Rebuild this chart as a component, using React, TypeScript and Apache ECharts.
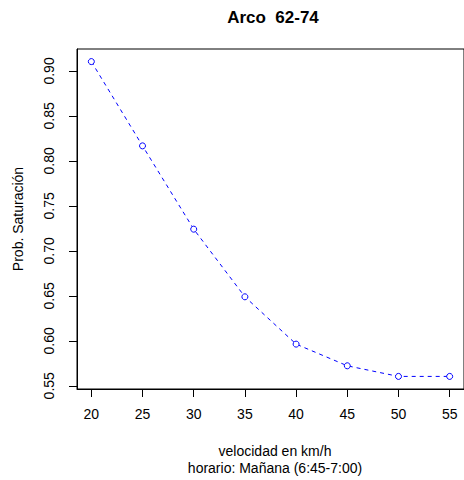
import React, { useEffect, useRef } from "react";
import * as echarts from "echarts";

const speeds = [20, 25, 30, 35, 40, 45, 50, 55];
const probs = [0.9104, 0.8167, 0.7241, 0.6489, 0.5963, 0.5722, 0.5604, 0.5604];
const xTicks = [20, 25, 30, 35, 40, 45, 50, 55];
const yTicks = [0.55, 0.6, 0.65, 0.7, 0.75, 0.8, 0.85, 0.9];
const titleText = "Arco  62-74";
const xTitle1 = "velocidad en km/h";
const xTitle2 = "horario: Mañana (6:45-7:00)";
const yTitle = "Prob. Saturación";

const FONT = "Liberation Sans, Arial, Helvetica, sans-serif";

export default function App() {
  const ref = useRef<HTMLDivElement>(null);
  useEffect(() => {
    if (!ref.current) return;
    const chart = echarts.init(ref.current, null, { renderer: "svg" });
    chart.setOption({
      animation: false,
      backgroundColor: "#ffffff",
      grid: {
        left: 77,
        top: 49,
        right: -6,
        bottom: 91,
        show: true,
        borderColor: "#000",
        borderWidth: 1,
        containLabel: false,
      },
      xAxis: {
        type: "value",
        min: 18.6,
        max: 56.4,
        axisLine: { show: true, lineStyle: { color: "#000", width: 1 } },
        axisTick: {
          show: true,
          length: 8,
          customValues: xTicks,
          lineStyle: { color: "#000", width: 1 },
        },
        axisLabel: {
          customValues: xTicks,
          margin: 18,
          color: "#000",
          fontSize: 14,
          fontFamily: FONT,
        },
        splitLine: { show: false },
      },
      yAxis: {
        type: "value",
        min: 0.5464,
        max: 0.9244,
        axisLine: { show: true, lineStyle: { color: "#000", width: 1 } },
        axisTick: {
          show: true,
          length: 8,
          customValues: yTicks,
          lineStyle: { color: "#000", width: 1 },
        },
        axisLabel: {
          customValues: yTicks,
          rotate: 90,
          margin: 21,
          color: "#000",
          fontSize: 14,
          fontFamily: FONT,
          formatter: (v: number) => v.toFixed(2),
        },
        splitLine: { show: false },
      },
      series: [
        {
          type: "line",
          data: speeds.map((s, i) => [s, probs[i]]),
          symbol: "circle",
          symbolSize: 6,
          lineStyle: { color: "#0000ff", width: 1, type: [4, 4] },
          itemStyle: { color: "#ffffff", borderColor: "#0000ff", borderWidth: 1 },
          clip: false,
        },
      ],
      graphic: [
        {
          type: "text",
          x: 273,
          y: 17,
          style: {
            text: titleText,
            font: `bold 17px ${FONT}`,
            fill: "#000",
            textAlign: "center",
            textVerticalAlign: "middle",
          },
        },
        {
          type: "text",
          x: 275,
          y: 451,
          style: {
            text: xTitle1,
            font: `14px ${FONT}`,
            fill: "#000",
            textAlign: "center",
            textVerticalAlign: "middle",
          },
        },
        {
          type: "text",
          x: 275,
          y: 468,
          style: {
            text: xTitle2,
            font: `14px ${FONT}`,
            fill: "#000",
            textAlign: "center",
            textVerticalAlign: "middle",
          },
        },
        {
          type: "text",
          x: 18,
          y: 219,
          rotation: Math.PI / 2,
          style: {
            text: yTitle,
            font: `14px ${FONT}`,
            fill: "#000",
            textAlign: "center",
            textVerticalAlign: "middle",
          },
        },
      ],
    });
    return () => chart.dispose();
  }, []);
  return (
    <div
      ref={ref}
      style={{ position: "absolute", left: 0, top: 0, width: 464, height: 480 }}
    />
  );
}
